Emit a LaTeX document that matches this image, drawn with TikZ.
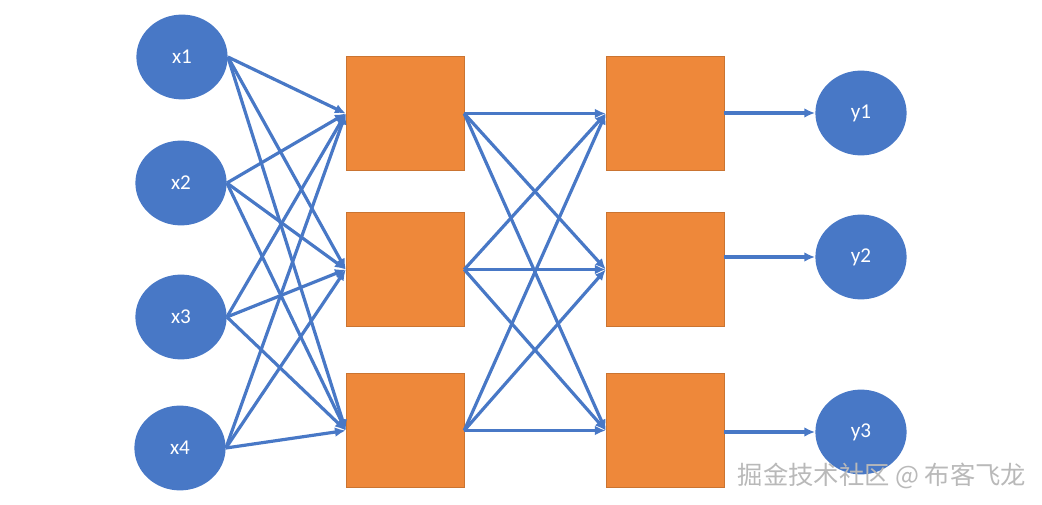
\documentclass[tikz,border=0pt]{standalone}
\usepackage{fontspec}
\setmainfont{Carlito}
\newfontfamily\cjk{Noto Sans CJK SC}
\usepackage{xcolor}
\usetikzlibrary{shapes.geometric}
\usetikzlibrary{positioning}
\usetikzlibrary{arrows.meta}
\definecolor{nodeblue}{HTML}{4878C6}
\definecolor{boxorange}{HTML}{EE883A}
\tikzset{neuron/.style={ellipse,fill=nodeblue,draw=none,inner sep=0pt,
                minimum width=2.28cm,minimum height=2.12cm,
                text=white,font=\fontsize{15}{17}\selectfont},
         layerbox/.style={rectangle,fill=boxorange,draw=boxorange!85!black,line width=0.3pt,
                minimum width=2.95cm,minimum height=2.85cm,inner sep=0pt},
         conn/.style={draw=nodeblue,line width=0.08cm,
                -{Latex[length=0.27cm,width=0.24cm]}},
         watermark/.style={font=\cjk\fontsize{18}{20}\selectfont,text=gray!55},
         }

\begin{document}
\begin{tikzpicture}[x=0.025cm,y=-0.025cm]
		\useasboundingbox (0,0) rectangle (1042,505);
		% inputs
		\node[neuron] (x1) at (182,57) {x1};
		\node[neuron] (x2) at (181,183) {x2};
		\node[neuron] (x3) at (181,317) {x3};
		\node[neuron] (x4) at (180,448) {x4};
		% first layer
		\node[layerbox] (h1) at (405,113.5) {};
		\node[layerbox] (h2) at (405,269.5) {};
		\node[layerbox] (h3) at (405,430.5) {};
		% second layer
		\node[layerbox] (g1) at (665,113.5) {};
		\node[layerbox] (g2) at (665,269.5) {};
		\node[layerbox] (g3) at (665,430.5) {};
		% outputs
		\node[neuron] (y1) at (861,113) {y1};
		\node[neuron] (y2) at (861,257) {y2};
		\node[neuron] (y3) at (861,432) {y3};
		% connections
		\foreach \i in {1,...,4}
			\foreach \j in {1,2,3}
				\draw[conn] (x\i.east) -- (h\j.west);
		\foreach \i in {1,2,3}
			\foreach \j in {1,2,3}
				\draw[conn] (h\i.east) -- (g\j.west);
		\foreach \j in {1,2,3}
			\draw[conn] (g\j.east |- y\j.west) -- (y\j.west);
		\node[watermark] (mark) at (882,476) {掘金技术社区 @ 布客飞龙};
\end{tikzpicture}
\end{document}
